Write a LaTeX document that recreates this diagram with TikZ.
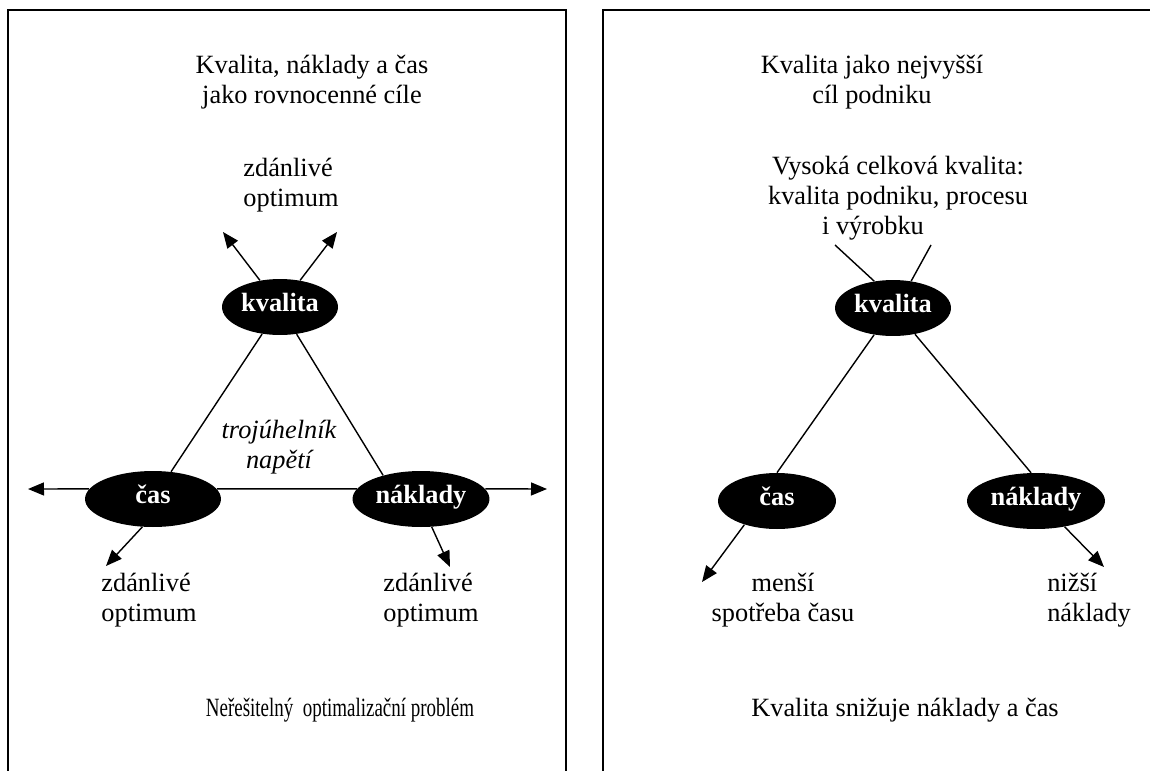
\documentclass[tikz,border=0pt]{standalone}
\usepackage{fontspec}
\setmainfont{Liberation Serif}
\usetikzlibrary{arrows.meta, shapes.geometric}

\begin{document}
\begin{tikzpicture}[
    x=0.02cm, y=-0.02cm,
    goal/.style={ellipse, fill=black, text=white, inner sep=0pt,
                 minimum height=1.12cm, text height=0.68em, text depth=0.2em,
                 font=\fontsize{15}{17}\selectfont\bfseries},
    lbl/.style={align=center, inner sep=0pt,
                font=\fontsize{15}{17}\selectfont},
    lbll/.style={lbl, align=left},
    frame/.style={line width=1.2pt},
    con/.style={line width=0.8pt},
    arr/.style={con, -{Triangle[length=0.32cm, width=0.26cm]}},
  ]
    \clip (0,0) rectangle (1150,771);
    \useasboundingbox (0,0) rectangle (1150,771);

    % Frames
    \draw[frame] (8,800) |- (566,10) -- (566,800);
    \draw[frame] (603,800) |- (1170,10);

    % Left: goals
    \node[goal, minimum width=2.32cm] (kv1) at (280,307) {kvalita};
    \node[goal, minimum width=2.72cm] (cas1) at (153,499) {čas};
    \node[goal, minimum width=2.74cm] (nak1) at (421,499) {náklady};

    % Left: texts
    \node[lbl] (aim1) at (312,82) {Kvalita, náklady a čas\\jako rovnocenné cíle};
    \node[lbll] (opt1) at (291,185) {zdánlivé\\optimum};
    \node[lbl, font=\fontsize{15}{17}\selectfont\itshape] (tri)
      at (279,447) {trojúhelník\\napětí};
    \node[lbll] (opt2) at (149,600) {zdánlivé\\optimum};
    \node[lbll] (opt3) at (431,600) {zdánlivé\\optimum};
    \node[lbl] (prob) at (340,710)
      {\scalebox{0.72}[1]{Neřešitelný\ \ optimalizační problém}};

    % Left: arrow tips
    \coordinate (tk1) at (223,232);
    \coordinate (tk2) at (337,232);
    \coordinate (tc1) at (28,489);
    \coordinate (tc2) at (106,566);
    \coordinate (tn1) at (547,489);
    \coordinate (tn2) at (450,567);

    % Left: connectors
    \draw[con] (kv1) -- (cas1);
    \draw[con] (kv1) -- (nak1.148);
    \draw[con] (cas1.9) -- (nak1.171);
    \draw[arr] (kv1.127) -- (tk1);
    \draw[arr] (kv1.53) -- (tk2);
    \draw[arr] (cas1.171) -- (tc1);
    \draw[arr] (cas1.249) -- (tc2);
    \draw[arr] (nak1.9) -- (tn1);
    \draw[arr] (nak1.291) -- (tn2);

    % Right: goals
    \node[goal, minimum width=2.32cm] (kv2) at (893,308) {kvalita};
    \node[goal, minimum width=2.36cm] (cas2) at (777,501) {čas};
    \node[goal, minimum width=2.76cm] (nak2) at (1036,501) {náklady};

    % Right: texts
    \node[lbl] (aim2) at (872,82) {Kvalita jako nejvyšší\\cíl podniku};
    \node[lbl] (tq) at (898,198)
      {Vysoká celková kvalita:\\kvalita podniku, procesu\\i výrobku\hspace*{1cm}};
    \node[lbl] (less) at (783,600) {menší\\spotřeba času};
    \node[lbll] (low) at (1089,600) {nižší\\náklady};
    \node[lbl] (res) at (905,710) {Kvalita snižuje náklady a čas};

    % Right: free ends
    \coordinate (u1) at (835,245);
    \coordinate (u2) at (931,245);
    \coordinate (tc3) at (702,582);
    \coordinate (tn3) at (1104,567);

    % Right: connectors
    \draw[con] (u1) -- (kv2.125);
    \draw[con] (u2) -- (kv2.56);
    \draw[con] (kv2) -- (cas2.north);
    \draw[con] (kv2) -- (nak2.100);
    \draw[arr] (cas2.216) -- (tc3);
    \draw[arr] (nak2.318) -- (tn3);
\end{tikzpicture}
\end{document}
